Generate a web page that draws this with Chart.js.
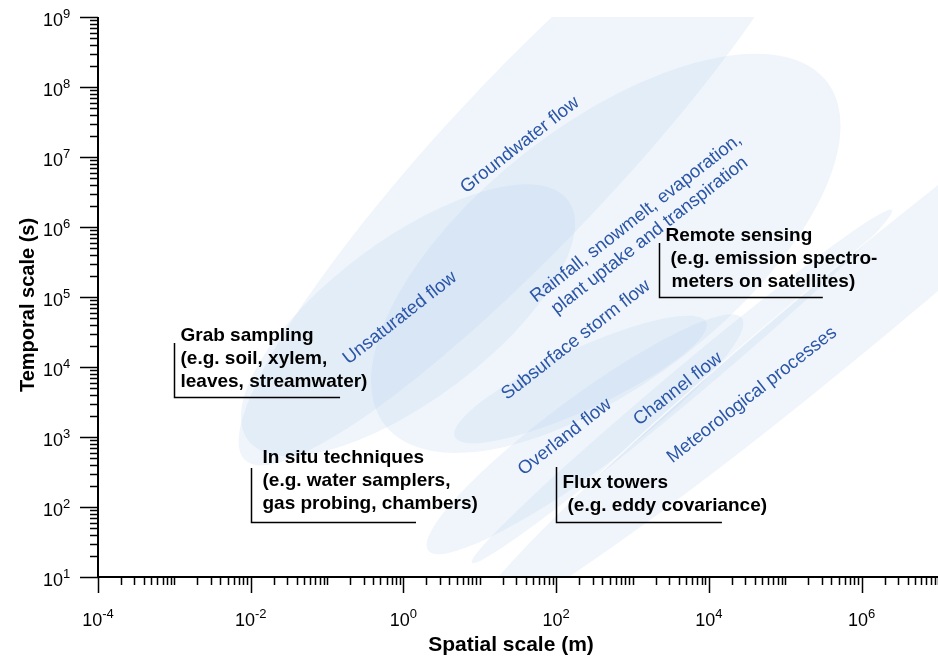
<!DOCTYPE html>
<html lang="en">
<head>
<meta charset="UTF-8" />
<title>Spatial and temporal scales of hydrological processes</title>
<script src="https://cdn.jsdelivr.net/npm/chart.js"></script>
<style>
  html,body{margin:0;padding:0;background:#fff;}
  #wrap{width:938px;height:658px;position:relative;}
</style>
</head>
<body>
<div id="wrap"><canvas id="scaleChart"></canvas></div>
<script>
// process envelopes: both ends of the long axis (spatial m, temporal s) + relative width
const processNames = ['Groundwater flow','Unsaturated flow','Rainfall','Subsurface storm flow',
                      'Overland flow','Channel flow','Meteorological processes'];
const lowX  = [0.0084, 0.0092, 0.57, 4.7, 2.1, 7.9, 7.4];
const lowY  = [469, 906, 1480, 1000, 24, 16, 2.06];
const highX = [2.85e5, 143, 3.5e5, 9200, 2.7e4, 2.5e6, 6.7e10];
const highY = [2.4e11, 2.4e6, 1.2e8, 4.4e4, 5.0e4, 1.75e6, 2.06e9];
const widthRatio = [0.2, 0.40, 0.46, 0.22, 0.19, 0.06, 0.085];

// blue labels (rotated), anchored at data positions
const labelLines = [['Groundwater flow'],['Unsaturated flow'],
                    ['Rainfall, snowmelt, evaporation,','plant uptake and transpiration'],
                    ['Subsurface storm flow'],['Overland flow'],['Channel flow'],['Meteorological processes']];
const labelX = [33.6, 0.90, 1370, 182, 130, 3940, 3.66e4];
const labelY = [1.48e7, 5.0e4, 1.0e6, 2.43e4, 1000, 4850, 3980];

// measurement methods: bracket corner and extent (m, s)
const methodLines = [['Grab sampling','(e.g. soil, xylem,','leaves, streamwater)'],
                     ['In situ techniques','(e.g. water samplers,','gas probing, chambers)'],
                     ['Flux towers','(e.g. eddy covariance)'],
                     ['Remote sensing','(e.g. emission spectro-','meters on satellites)']];
const methodXmin = [1e-3, 1e-2, 100, 2200];
const methodXmax = [0.148, 1.46, 1.48e4, 3.1e5];
const methodYmin = [3700, 61, 61, 1e5];
const methodYmax = [2.2e4, 360, 373, 5.9e5];

// axes
const xTickExp = [-4, -2, 0, 2, 4, 6];
const yTickExp = [1, 2, 3, 4, 5, 6, 7, 8, 9];

const textX = [[6,6,6],[11,11,11],[6,11],[6,11,12]];
const textDy = [[-57,-34,-11],[-60,-37,-14],[-35,-12],[-57,-34,-11]];

const FONT = '"Liberation Sans", Arial, Helvetica, sans-serif';

function drawPow(ctx, exp, x, y, align){
  ctx.font = '18px ' + FONT;
  const w1 = ctx.measureText('10').width;
  ctx.font = '13px ' + FONT;
  const e = String(exp);
  const w2 = ctx.measureText(e).width;
  let x0 = x;
  if (align === 'center') x0 = x - (w1 + w2) / 2;
  if (align === 'right') x0 = x - (w1 + w2);
  ctx.textAlign = 'left';
  ctx.textBaseline = 'alphabetic';
  ctx.font = '18px ' + FONT;
  ctx.fillText('10', x0, y);
  ctx.font = '13px ' + FONT;
  ctx.fillText(e, x0 + w1, y - 8);
}

const sketch = {
  id: 'sketch',
  beforeDatasetsDraw(chart){
    const {ctx, chartArea: a, scales: {x, y}} = chart;
    ctx.save();
    ctx.beginPath();
    ctx.rect(a.left, a.top, a.right - a.left, a.bottom - a.top);
    ctx.clip();
    ctx.fillStyle = 'rgba(160,190,230,0.16)';
    ctx.strokeStyle = 'rgba(255,255,255,0.9)';
    ctx.lineWidth = 1.5;
    processNames.forEach((n, i) => {
      const x1 = x.getPixelForValue(lowX[i]), y1 = y.getPixelForValue(lowY[i]);
      const x2 = x.getPixelForValue(highX[i]), y2 = y.getPixelForValue(highY[i]);
      const r = Math.hypot(x2 - x1, y2 - y1) / 2;
      ctx.beginPath();
      ctx.ellipse((x1 + x2) / 2, (y1 + y2) / 2, r, r * widthRatio[i], Math.atan2(y2 - y1, x2 - x1), 0, Math.PI * 2);
      if (i === processNames.length - 1) ctx.stroke();
      ctx.fill();
    });
    ctx.fillStyle = '#2B56A7';
    ctx.font = '18.5px ' + FONT;
    ctx.textAlign = 'center';
    ctx.textBaseline = 'middle';
    labelLines.forEach((lines, i) => {
      ctx.save();
      ctx.translate(x.getPixelForValue(labelX[i]), y.getPixelForValue(labelY[i]));
      ctx.rotate(-38 * Math.PI / 180);
      lines.forEach((t, k) => ctx.fillText(t, 0, (k - (lines.length - 1) / 2) * 22));
      ctx.restore();
    });
    ctx.restore();
  },
  afterDraw(chart){
    const {ctx, chartArea: a, scales: {x, y}} = chart;
    ctx.save();
    ctx.strokeStyle = '#000';
    ctx.fillStyle = '#000';
    // axis lines
    ctx.lineWidth = 2;
    ctx.beginPath();
    ctx.moveTo(a.left, a.top); ctx.lineTo(a.left, a.bottom); ctx.lineTo(a.right, a.bottom);
    ctx.stroke();
    // ticks
    ctx.lineWidth = 1.5;
    ctx.beginPath();
    for (let e = -4; e <= 7; e++){
      for (let m = 1; m <= 9; m++){
        const v = m * Math.pow(10, e);
        if (v > 1e7 * 1.0001) break;
        const px = Math.round(x.getPixelForValue(v)) + 0.5;
        const len = (m === 1 && xTickExp.includes(e)) ? 16 : 8;
        ctx.moveTo(px, a.bottom); ctx.lineTo(px, a.bottom + len);
      }
    }
    for (let e = 1; e <= 9; e++){
      for (let m = 1; m <= 9; m++){
        const v = m * Math.pow(10, e);
        if (v > 1e9 * 1.0001) break;
        const py = Math.round(y.getPixelForValue(v)) + 0.5;
        const len = m === 1 ? 18 : 8;
        ctx.moveTo(a.left, py); ctx.lineTo(a.left - len, py);
      }
    }
    ctx.stroke();
    // tick labels
    xTickExp.forEach(e => drawPow(ctx, e, x.getPixelForValue(Math.pow(10, e)), 626, 'center'));
    yTickExp.forEach(e => drawPow(ctx, e, 43, y.getPixelForValue(Math.pow(10, e)) + 9, 'left'));
    // axis titles
    ctx.textAlign = 'center';
    ctx.textBaseline = 'alphabetic';
    ctx.font = 'bold 21px ' + FONT;
    ctx.fillText('Spatial scale (m)', 511, 651);
    ctx.save();
    ctx.font = 'bold 20px ' + FONT;
    ctx.translate(34, 305);
    ctx.rotate(-Math.PI / 2);
    ctx.fillText('Temporal scale (s)', 0, 0);
    ctx.restore();
    // method brackets
    ctx.font = 'bold 19px ' + FONT;
    ctx.lineWidth = 1.5;
    ctx.textAlign = 'left';
    methodLines.forEach((lines, i) => {
      const x0 = Math.round(x.getPixelForValue(methodXmin[i])) + 0.5;
      const x1 = x.getPixelForValue(methodXmax[i]);
      const y0 = Math.round(y.getPixelForValue(methodYmin[i])) + 0.5;
      const y1 = y.getPixelForValue(methodYmax[i]);
      ctx.beginPath();
      ctx.moveTo(x0, y1); ctx.lineTo(x0, y0); ctx.lineTo(x1, y0);
      ctx.stroke();
      lines.forEach((t, k) => ctx.fillText(t, x0 + textX[i][k], y0 + textDy[i][k]));
    });
    ctx.restore();
  }
};

new Chart(document.getElementById('scaleChart'), {
  type: 'scatter',
  data: { datasets: [{ data: [], pointRadius: 0 }] },
  options: {
    responsive: true,
    maintainAspectRatio: false,
    animation: false,
    layout: { padding: { left: 98, top: 17, right: 0, bottom: 81 } },
    plugins: { legend: { display: false }, tooltip: { enabled: false } },
    scales: {
      x: { type: 'logarithmic', min: 1e-4, max: 1e7, display: false },
      y: { type: 'logarithmic', min: 1e1, max: 1e9, display: false }
    }
  },
  plugins: [sketch]
});
</script>
</body>
</html>
